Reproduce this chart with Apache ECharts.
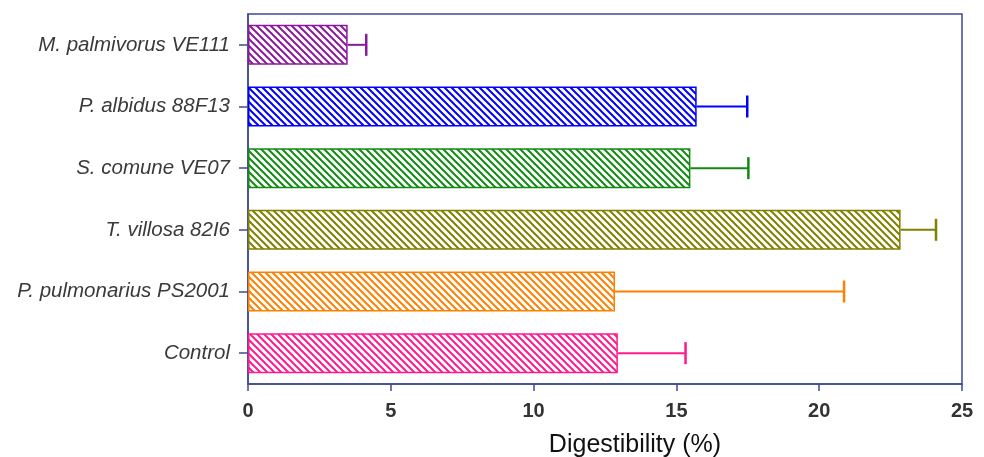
<!DOCTYPE html>
<html>
<head>
<meta charset="utf-8">
<script src="https://cdn.jsdelivr.net/npm/echarts@6/dist/echarts.min.js"></script>
<style>
  html, body { margin: 0; padding: 0; background: #fff; }
  #chart { width: 984px; height: 457px; }
</style>
</head>
<body>
<div id="chart"></div>
<script>
// categories listed bottom -> top (category axis starts at the bottom)
const strains = [
  "Control",
  "P. pulmonarius PS2001",
  "T. villosa 82I6",
  "S. comune VE07",
  "P. albidus 88F13",
  "M. palmivorus VE111",
];
const digestibility = [12.95, 12.85, 22.85, 15.49, 15.71, 3.49];
const errors = [2.37, 8.02, 1.24, 2.03, 1.77, 0.65];
const barColors = ["#ff1a8c", "#ff8000", "#808000", "#138a13", "#0000ff", "#8a1a9c"];
const xTicks = [0, 5, 10, 15, 20, 25];

const axisColor = "#3f4a95";

// diagonal "\" hatch fill
function hatch(color) {
  const s = 7;
  const c = document.createElement("canvas");
  c.width = s;
  c.height = s;
  const ctx = c.getContext("2d");
  ctx.strokeStyle = color;
  ctx.lineWidth = 2;
  for (let k = -1; k <= 1; k++) {
    ctx.beginPath();
    ctx.moveTo(k * s - 1, -1);
    ctx.lineTo(k * s + s + 1, s + 1);
    ctx.stroke();
  }
  return { image: c, repeat: "repeat" };
}

const chart = echarts.init(document.getElementById("chart"));

chart.setOption({
  animation: false,
  textStyle: { fontFamily: "Liberation Sans, Arial, sans-serif" },
  grid: {
    left: 248,
    right: 22,
    top: 14,
    bottom: 73,
    outerBoundsMode: "none",
    show: true,
    borderColor: axisColor,
    borderWidth: 1.5,
  },
  xAxis: {
    type: "value",
    min: xTicks[0],
    max: xTicks[xTicks.length - 1],
    interval: 5,
    splitLine: { show: false },
    axisLine: { show: true, lineStyle: { color: axisColor, width: 1.5 } },
    axisTick: { show: true, length: 7, lineStyle: { color: axisColor, width: 1.5 } },
    axisLabel: { color: "#333", fontSize: 20, fontWeight: "bold", margin: 17 },
    name: "Digestibility (%)",
    nameLocation: "middle",
    nameGap: 49,
    nameTextStyle: { color: "#111", fontSize: 25, padding: [0, 0, 0, 60] },
  },
  yAxis: {
    type: "category",
    data: strains,
    axisLine: { show: true, lineStyle: { color: axisColor, width: 1.5 } },
    axisTick: { show: true, alignWithLabel: true, length: 9, lineStyle: { color: axisColor, width: 1.5 } },
    axisLabel: { color: "#3a3a3a", fontSize: 20.5, fontStyle: "italic", margin: 18 },
  },
  series: [
    {
      type: "bar",
      barWidth: 40,
      data: digestibility.map((v, i) => ({
        value: v,
        itemStyle: {
          color: hatch(barColors[i]),
          borderColor: barColors[i],
          borderWidth: 1.5,
        },
      })),
    },
    {
      type: "custom",
      data: digestibility.map((v, i) => [v, i, errors[i]]),
      renderItem: (params, api) => {
        const i = api.value(1);
        const start = api.coord([api.value(0), i]);
        const end = api.coord([api.value(0) + api.value(2), i]);
        const color = barColors[params.dataIndex];
        const style = { stroke: color, lineWidth: 2 };
        return {
          type: "group",
          children: [
            { type: "line", shape: { x1: start[0], y1: start[1], x2: end[0], y2: end[1] }, style },
            { type: "line", shape: { x1: end[0], y1: end[1] - 11, x2: end[0], y2: end[1] + 11 }, style: { stroke: color, lineWidth: 2.5 } },
          ],
        };
      },
      z: 3,
    },
  ],
});
</script>
</body>
</html>
